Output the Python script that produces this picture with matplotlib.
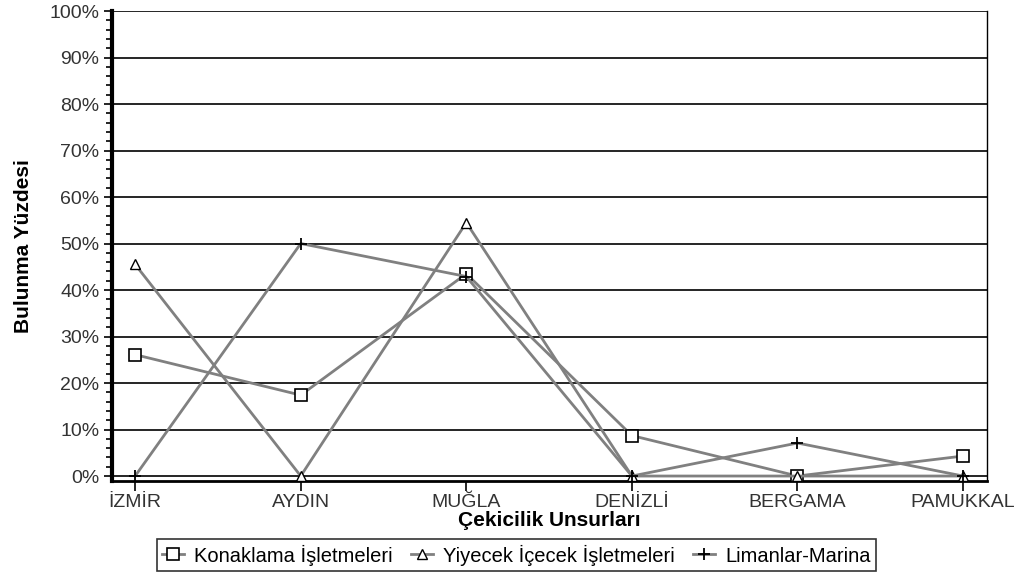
import matplotlib
matplotlib.use("Agg")
import matplotlib.pyplot as plt
from matplotlib.ticker import MultipleLocator, FuncFormatter

plt.rcParams['font.family'] = ['Liberation Sans', 'DejaVu Sans']

categories = ["İZMİR", "AYDIN", "MUĞLA", "DENİZLİ", "BERGAMA", "PAMUKKAL"]
konaklama = [26.1, 17.4, 43.5, 8.7, 0.0, 4.3]
yiyecek = [45.5, 0.0, 54.5, 0.0, 0.0, 0.0]
limanlar = [0.0, 50.0, 42.9, 0.0, 7.1, 0.0]
series_names = ["Konaklama İşletmeleri", "Yiyecek İçecek İşletmeleri", "Limanlar-Marina"]

fig = plt.figure(figsize=(10.18, 5.79), dpi=100)
ax = fig.add_axes([0.110, 0.169, 0.8596, 0.812])

x = list(range(len(categories)))
lc = "#808080"
ax.plot(x, konaklama, color=lc, lw=2, marker="s", ms=8.5, mfc="white", mec="black", mew=1.2,
        label=series_names[0], zorder=3)
ax.plot(x, yiyecek, color=lc, lw=2, marker="^", ms=6.5, mfc="white", mec="black", mew=1.0,
        label=series_names[1], zorder=3)
ax.plot(x, limanlar, color=lc, lw=2, marker="+", ms=9, mec="black", mew=1.3,
        label=series_names[2], zorder=3)

ax.set_xlim(-0.14, 5.145)
ax.set_ylim(-1.1, 100)
ax.yaxis.set_major_locator(MultipleLocator(10))
ax.yaxis.set_minor_locator(MultipleLocator(2))
ax.yaxis.set_major_formatter(FuncFormatter(lambda v, p: f"{int(round(v))}%"))
ax.grid(axis="y", which="major", color="black", lw=1.2)
ax.set_axisbelow(True)

ax.set_xticks(x)
ax.set_xticklabels(categories, fontsize=14, color="#333333")
ax.tick_params(axis="y", which="major", length=6, width=1.2, labelsize=14, labelcolor="#333333", pad=3)
ax.tick_params(axis="y", which="minor", length=4, width=1.2)
ax.tick_params(axis="x", length=7, width=1.2, pad=2)

ax.spines["left"].set_linewidth(3)
ax.spines["bottom"].set_linewidth(2)
ax.spines["right"].set_linewidth(1)
ax.spines["top"].set_visible(False)

ax.set_ylabel("Bulunma Yüzdesi", fontsize=15, fontweight="bold", labelpad=12)
ax.set_xlabel("Çekicilik Unsurları", fontsize=15, fontweight="bold", labelpad=0)

leg = fig.legend(loc="center", bbox_to_anchor=(0.507, 0.0415), ncol=3, fontsize=14.5,
                 frameon=True, fancybox=False, edgecolor="black", handlelength=1.1,
                 handletextpad=0.5, columnspacing=0.9, borderpad=0.25, borderaxespad=0)
leg.get_frame().set_linewidth(1.2)

fig.savefig("out.png", dpi=100)
